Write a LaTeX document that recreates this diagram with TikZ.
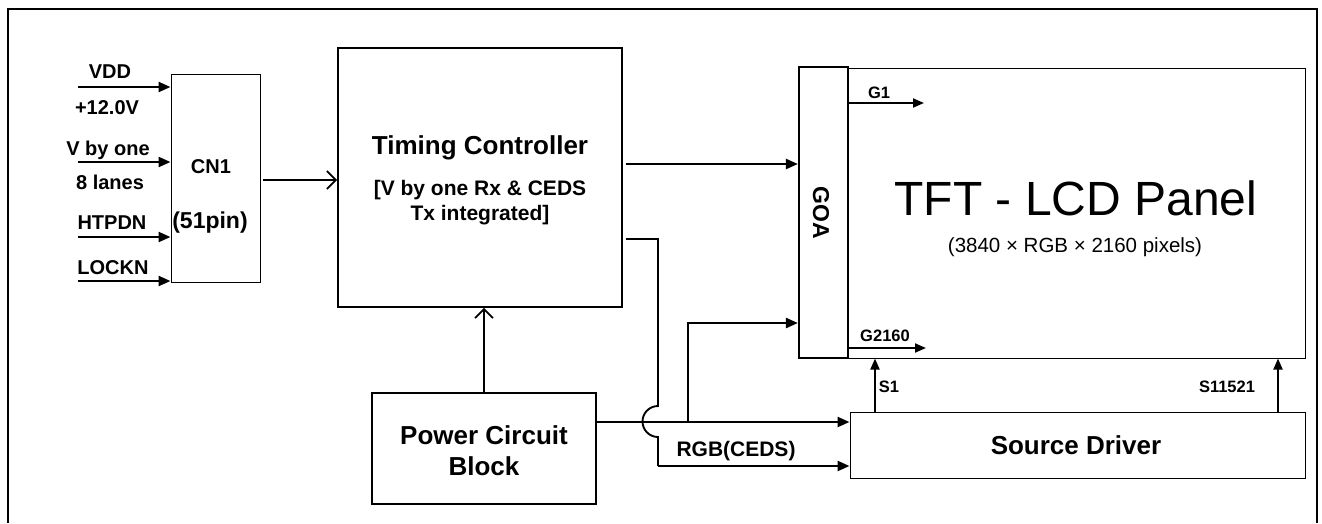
\documentclass[tikz,border=0pt]{standalone}
\usepackage{fontspec}
\setmainfont{Liberation Sans}
\usetikzlibrary{arrows.meta}
\begin{document}
\begin{tikzpicture}[x=1pt,y=-1pt,
  box/.style={draw, line width=1.6pt, inner sep=0pt},
  thinbox/.style={draw, line width=1pt, inner sep=0pt},
  sig/.style={line width=2.3pt, -{Triangle[length=12pt,width=10pt]}},
  sigthin/.style={line width=1.9pt, -{Triangle[length=11pt,width=9pt]}},
  wire/.style={line width=1.9pt},
  openarr/.style={line width=2pt, -{Straight Barb[length=9pt,width=18pt,line width=1.8pt]}},
  lbl/.style={font=\bfseries\fontsize{20}{22}\selectfont, inner sep=0pt},
  small/.style={font=\bfseries\fontsize{16.5}{18}\selectfont, inner sep=0pt},
  big/.style={font=\bfseries\fontsize{26}{31}\selectfont, inner sep=0pt, align=center},
  mid/.style={font=\bfseries\fontsize{21}{25}\selectfont, inner sep=0pt, align=center}
]
\useasboundingbox (0,0) rectangle (1322,523);
% outer frame
\draw[line width=1.8pt] (8,523) -- (8,9) -- (1317,9) -- (1317,523);

% boxes
\node[thinbox, minimum width=89pt, minimum height=208pt] (cn1) at (215.5,178) {};
\node[box, minimum width=284pt, minimum height=259pt] (tc) at (480,177.5) {};
\node[box, minimum width=224pt, minimum height=111pt] (pc) at (484,448.5) {};
\node[draw, line width=2.2pt, minimum width=49pt, minimum height=291pt, inner sep=0pt] (goa) at (823.5,212.5) {};
\node[thinbox, minimum width=457pt, minimum height=290pt] (panel) at (1076.5,213) {};
\node[thinbox, minimum width=455pt, minimum height=66pt] (sd) at (1077.5,445) {};

% box texts
\node[lbl] (cn1t) at (211,167) {CN1};
\node[lbl, font=\bfseries\fontsize{23}{25}\selectfont] (cn1p) at (210,223) {(51pin)};
\node[big] (tct) at (480,148) {Timing Controller};
\node[mid] (tcs) at (480,203) {[V by one Rx \& CEDS\\Tx integrated]};
\node[big] (pct) at (484,451) {Power Circuit\\Block};
\node[font=\bfseries\fontsize{23}{25}\selectfont, inner sep=0pt, rotate=-90] (goat) at (821,213) {GOA};
\node[font=\fontsize{48}{52}\selectfont, inner sep=0pt] (panelt) at (1076,198) {TFT - LCD Panel};
\node[font=\fontsize{20.5}{24}\selectfont, inner sep=0pt] (panels) at (1075,247) {(3840 × RGB × 2160 pixels)};
\node[big] (sdt) at (1076,445) {Source Driver};

% input labels
\node[lbl] (l1) at (110,72) {VDD};
\node[lbl] (l2) at (107,108) {+12.0V};
\node[lbl] (l3) at (108,150) {V by one};
\node[lbl] (l4) at (110,182) {8 lanes};
\node[lbl] (l5) at (112,223) {HTPDN};
\node[lbl] (l6) at (113,268) {LOCKN};

% input arrows
\coordinate (i1) at (78,87);
\coordinate (i2) at (78,162);
\coordinate (i3) at (78,237);
\coordinate (i4) at (78,281);
\draw[sig] (i1) -- (i1 -| cn1.west);
\draw[sig] (i2) -- (i2 -| cn1.west);
\draw[sig] (i3) -- (i3 -| cn1.west);
\draw[sig] (i4) -- (i4 -| cn1.west);

% CN1 -> TC
\coordinate (c1) at (263,180);
\draw[openarr] (c1) -- (c1 -| tc.west);
% PC -> TC
\draw[openarr] (pc.north) -- (pc.north |- tc.south);

% TC -> GOA
\coordinate (t1) at (626,164);
\draw[sig] (t1) -- (t1 -| goa.west);

% TC -> hop -> SD
\coordinate (t2) at (626,239);
\coordinate (t2c) at (658,239);
\coordinate (t2d) at (658,406);
\coordinate (t2e) at (658,466);
\draw[wire] (t2) -- (t2c) -- (t2d) arc[start angle=90, end angle=270, radius=15.5pt] -- (t2e);
\draw[sig] (t2e) -- (t2e -| sd.west);
\node[mid] (rgb) at (736,451) {RGB(CEDS)};

% PC -> SD and branch to GOA
\coordinate (p1) at (596,422);
\coordinate (br) at (688,422);
\coordinate (br2) at (688,323);
\draw[sig] (p1) -- (p1 -| sd.west);
\draw[sig] (br) -- (br2) -- (br2 -| goa.west);

% gate lines
\coordinate (g1) at (848,103);
\coordinate (g1e) at (924,103);
\coordinate (g2) at (848,348);
\coordinate (g2e) at (926,348);
\draw[sigthin] (g1) -- (g1e);
\draw[sigthin] (g2) -- (g2e);
\node[small] (g1l) at (879,93) {G1};
\node[small] (g2l) at (885,336) {G2160};

% source lines
\coordinate (s1) at (875,412);
\coordinate (s2) at (1278,412);
\draw[sigthin] (s1) -- (s1 |- panel.south);
\draw[sigthin] (s2) -- (s2 |- panel.south);
\node[small] (s1l) at (889,387) {S1};
\node[small] (s2l) at (1227,387) {S11521};
\end{tikzpicture}
\end{document}
